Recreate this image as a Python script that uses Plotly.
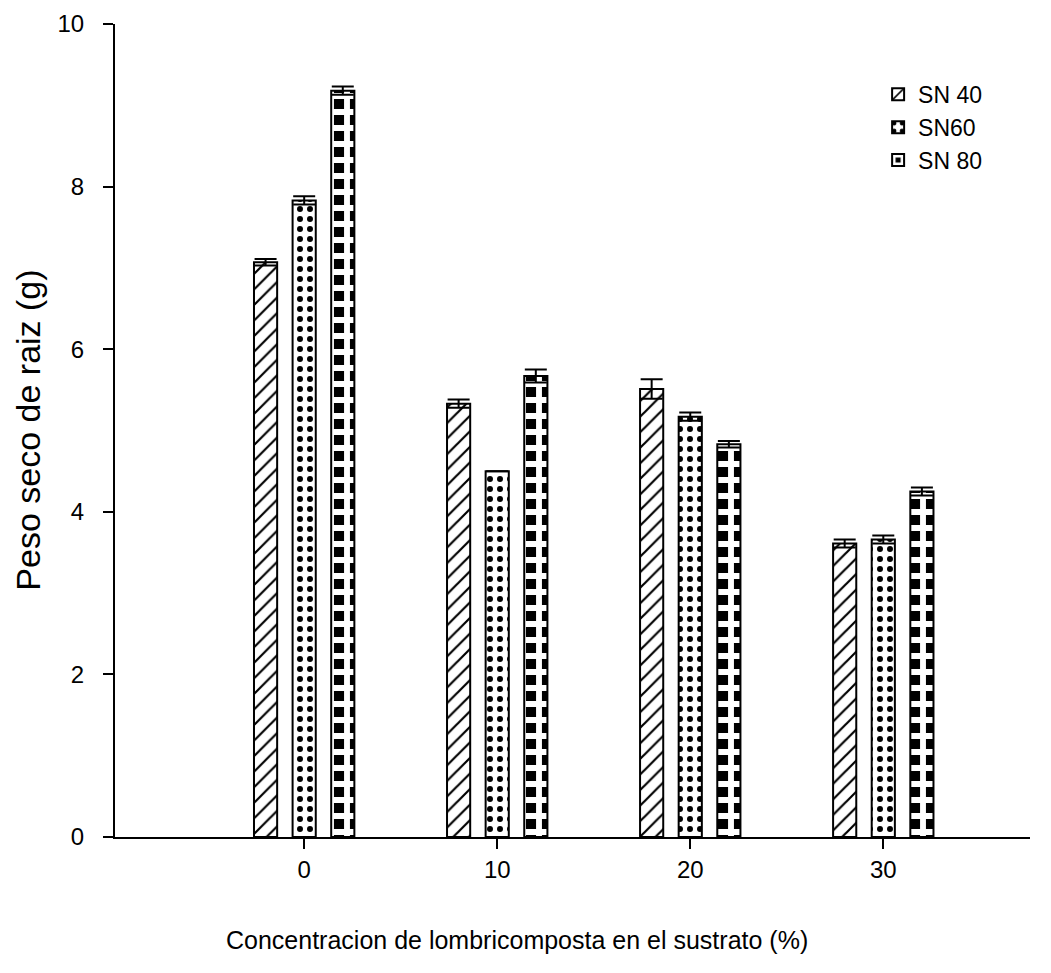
import plotly.graph_objects as go

categories = [0, 10, 20, 30]
series_names = ["SN 40", "SN60", "SN 80"]
sn40 = [7.07, 5.33, 5.51, 3.61]
sn40_err = [0.04, 0.05, 0.12, 0.05]
sn60 = [7.83, 4.50, 5.17, 3.66]
sn60_err = [0.05, 0.0, 0.05, 0.05]
sn80 = [9.18, 5.67, 4.83, 4.25]
sn80_err = [0.05, 0.08, 0.04, 0.05]
y_ticks = [0, 2, 4, 6, 8, 10]
x_title = "Concentracion de lombricomposta en el sustrato (%)"
y_title = "Peso seco de raiz (g)"

FONT = "Liberation Sans, Arial"

patterns = [
    dict(shape="/", fgcolor="black", bgcolor="white", size=11, solidity=0.2, fgopacity=1),
    dict(shape=".", fgcolor="black", bgcolor="white", size=10, solidity=0.28, fgopacity=1),
    dict(shape="+", fgcolor="white", bgcolor="black", size=16, solidity=0.6, fgopacity=1),
]

fig = go.Figure()
for name, vals, errs, pat in zip(series_names, [sn40, sn60, sn80],
                                 [sn40_err, sn60_err, sn80_err], patterns):
    fig.add_trace(go.Bar(
        x=categories, y=vals, name=name,
        marker=dict(color="white", pattern=pat,
                    line=dict(color="black", width=2)),
        error_y=dict(type="data", array=errs, visible=True,
                     color="black", thickness=2, width=11),
    ))

fig.update_layout(
    width=1051, height=973,
    margin=dict(l=107, r=29, t=16, b=144, autoexpand=False),
    paper_bgcolor="white", plot_bgcolor="white",
    barmode="group", bargap=0.4, bargroupgap=0.4,
    showlegend=True,
    legend=dict(x=0.834, y=0.940, xanchor="left", yanchor="top",
                font=dict(family=FONT, size=23, color="black"),
                bgcolor="rgba(0,0,0,0)"),
    xaxis=dict(range=[-9.8, 37.6], tickvals=categories,
               ticktext=[str(c) for c in categories],
               showline=True, linecolor="black", linewidth=2,
               ticks="outside", ticklen=10, tickwidth=2, tickcolor="black",
               showgrid=False, zeroline=False, automargin=False,
               tickfont=dict(family=FONT, size=24, color="black")),
    yaxis=dict(range=[0, 10], tickvals=y_ticks,
               showline=True, linecolor="black", linewidth=2,
               ticks="outside", ticklen=10, tickwidth=2, tickcolor="black",
               showgrid=False, zeroline=False, ticklabelstandoff=14,
               automargin=False,
               tickfont=dict(family=FONT, size=24, color="black")),
    annotations=[
        dict(text=x_title, xref="paper", yref="paper", x=0.439, y=-0.127,
             xanchor="center", yanchor="middle", showarrow=False,
             font=dict(family=FONT, size=25, color="black")),
        dict(text=y_title, xref="paper", yref="paper", x=-0.096, y=0.5,
             xanchor="center", yanchor="middle", showarrow=False, textangle=-90,
             font=dict(family=FONT, size=34, color="black")),
    ],
)

fig.write_html("out.html")
